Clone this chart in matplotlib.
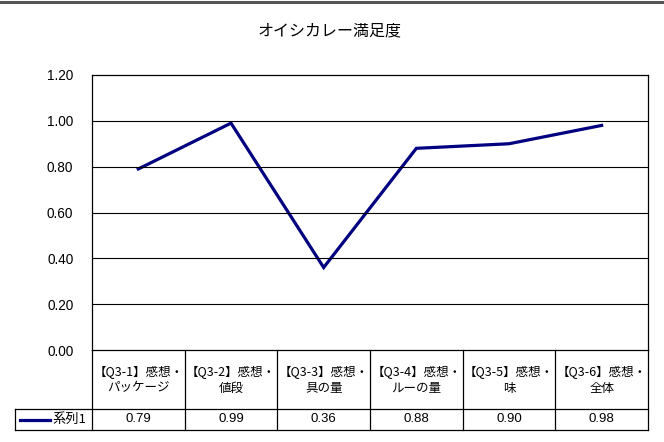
import matplotlib
matplotlib.use("Agg")
import matplotlib.pyplot as plt
from matplotlib.lines import Line2D

plt.rcParams['font.family'] = ['Noto Sans CJK JP', 'DejaVu Sans']

title = "オイシカレー満足度"
categories = ["【Q3-1】感想・\nパッケージ", "【Q3-2】感想・\n値段", "【Q3-3】感想・\n具の量",
              "【Q3-4】感想・\nルーの量", "【Q3-5】感想・\n味", "【Q3-6】感想・\n全体"]
values = [0.79, 0.99, 0.36, 0.88, 0.90, 0.98]
series_name = "系列1"
yticks = [0.0, 0.2, 0.4, 0.6, 0.8, 1.0, 1.2]

W, H = 664, 442
fig = plt.figure(figsize=(W / 100, H / 100), dpi=100)

def fx(px):
    return px / W

def fy(py):
    return 1 - py / H

# plot area
left, right, top, bottom = 92, 648, 75, 350
ax = fig.add_axes([fx(left), fy(bottom), fx(right) - fx(left), fy(top) - fy(bottom)])
n = len(values)
ax.set_xlim(0, n)
ax.set_ylim(0, 1.2)
xs = [i + 0.5 for i in range(n)]
ax.plot(xs, values, color="#000080", lw=2.3, solid_joinstyle="miter")
ax.set_yticks(yticks)
ax.set_yticklabels([f"{v:.2f}" for v in yticks], fontsize=9.8, family=['Liberation Sans', 'DejaVu Sans'])
ax.tick_params(axis='y', length=0, pad=13.5)
ax.set_xticks([])
for v in yticks[1:-1]:
    ax.axhline(v, color="black", lw=0.8)
for s in ax.spines.values():
    s.set_color("black")
    s.set_linewidth(0.9)
ax.spines['bottom'].set_visible(False)

# data table axes
tleft, tbot = 15, 430
unit = (right - left) / n
tax = fig.add_axes([fx(tleft), fy(tbot), fx(right) - fx(tleft), fy(bottom) - fy(tbot)])
tax.set_xlim(-(left - tleft) / unit, n)
tax.set_ylim(tbot - bottom, 0)
tax.axis('off')
rowy = 409 - bottom
lk = dict(color="black", lw=0.9, clip_on=False)
lx0 = -(left - tleft) / unit
tax.plot([0, n], [0, 0], **lk)
tax.plot([lx0, n], [rowy, rowy], **lk)
tax.plot([lx0, n], [tbot - bottom, tbot - bottom], **lk)
tax.plot([lx0] * 2, [rowy, tbot - bottom], **lk)
for i in range(n + 1):
    tax.plot([i, i], [0, tbot - bottom], **lk)
for i, (c, v) in enumerate(zip(categories, values)):
    tax.text(i + 0.5, rowy / 2 + 0.5, c, ha="center", va="center", fontsize=9, linespacing=1.3)
    tax.text(i + 0.5, (rowy + tbot - bottom) / 2, f"{v:.2f}", ha="center", va="center", fontsize=9.5,
             family=['Liberation Sans', 'DejaVu Sans'])
tax.plot([lx0 + 5 / unit, lx0 + 35 / unit], [(rowy + tbot - bottom) / 2] * 2, color="#000080", lw=2.3,
         clip_on=False)
tax.text(lx0 + 37 / unit, (rowy + tbot - bottom) / 2, series_name, ha="left", va="center", fontsize=9.5)

# title
fig.text(fx(330), fy(31), title, ha="center", va="center", fontsize=11.5)

# top border line
fig.add_artist(Line2D([0, 1], [fy(2), fy(2)], color="#555555", lw=2.2))

fig.savefig("out.png", dpi=100, facecolor="white")
